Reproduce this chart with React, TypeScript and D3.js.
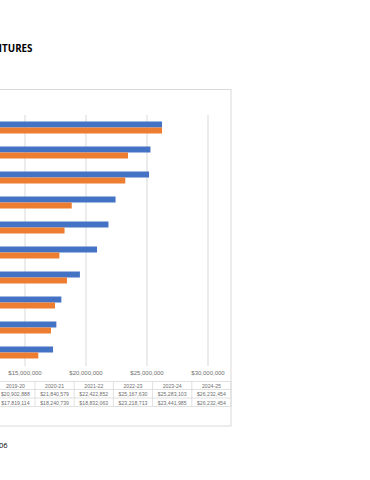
import React from "react";
import * as d3 from "d3";

const categories = ["2015-16", "2016-17", "2017-18", "2018-19", "2019-20", "2020-21", "2021-22", "2022-23", "2023-24", "2024-25"];
const seriesNames = ["Budget", "Actual"];
const budget = [17300000, 17570000, 17980000, 19500000, 20902888, 21840579, 22422852, 25167630, 25283103, 26232454];
const actual = [16090000, 17130000, 17460000, 18440000, 17819114, 18240739, 18832063, 23218713, 23441985, 26232454];
const xTicks = [0, 5000000, 10000000, 15000000, 20000000, 25000000, 30000000];
const colors = ["#4472C4", "#ED7D31"];

export default function App() {
  const W = 370, H = 480;
  const x = d3.scaleLinear().domain([0, 30000000]).range([-158, 208]);
  const y = d3.scaleBand().domain([...categories].reverse()).range([115, 365]);
  const col = d3.scaleBand().domain(categories).range([231 - 392, 231]);
  const fmt = d3.format("$,.0f");
  const series = [budget, actual];
  const rowTops = [381.5, 389.5, 398, 406.5];
  const font = "'Liberation Sans', Arial, sans-serif";
  const gray = "#6f6f6f";
  return (
    <div style={{ position: "absolute", left: 0, top: 0 }}>
      <svg width={W} height={H} style={{ display: "block", background: "#fff" }}>
        <text x={32.5} y={51.5} textAnchor="end" fontFamily="'Open Sans', sans-serif" fontWeight="bold" fontSize={9.8} fill="#000">
          EXPENDITURES
        </text>
        {/* chart border */}
        <rect x={-200} y={89.5} width={431} height={336.5} fill="none" stroke="#d9d9d9" strokeWidth={1} />
        {/* gridlines */}
        {xTicks.map((t) => (
          <line key={t} x1={x(t)} x2={x(t)} y1={115} y2={366} stroke="#d9d9d9" strokeWidth={1} />
        ))}
        {/* bars */}
        {categories.map((c, i) => {
          const cy = (y(c) as number) + y.bandwidth() / 2;
          return series.map((s, k) => (
            <rect
              key={c + k}
              x={x(0)}
              y={cy - 6 + k * 6}
              width={x(s[i]) - x(0)}
              height={6}
              fill={colors[k]}
            />
          ));
        })}
        {/* tick labels */}
        {xTicks.map((t) => (
          <text key={"l" + t} x={x(t)} y={375} textAnchor="middle" fontFamily={font} fontSize={6} fill={gray}>
            {fmt(t)}
          </text>
        ))}
        {/* data table */}
        {rowTops.map((ry, i) => (
          <line key={"r" + i} x1={col.range()[0] - 40} x2={231} y1={ry} y2={ry} stroke="#d9d9d9" strokeWidth={0.8} />
        ))}
        {categories.map((c) => (
          <line key={"v" + c} x1={(col(c) as number) + col.bandwidth()} x2={(col(c) as number) + col.bandwidth()} y1={rowTops[0]} y2={rowTops[3]} stroke="#d9d9d9" strokeWidth={0.8} />
        ))}
        {categories.map((c, i) => {
          const cx = (col(c) as number) + col.bandwidth() / 2;
          return (
            <g key={"t" + c} fontFamily={font} fontSize={5.2} fill={gray} textAnchor="middle">
              <text x={cx} y={387.5}>{c}</text>
              <text x={cx} y={395.8}>{fmt(budget[i])}</text>
              <text x={cx} y={404.5}>{fmt(actual[i])}</text>
            </g>
          );
        })}
        {seriesNames.map((n, k) => (
          <text key={n} x={col.range()[0] - 20} y={395.8 + k * 8.7} textAnchor="middle" fontFamily={font} fontSize={5.2} fill={gray}>
            {n}
          </text>
        ))}
        <text x={7.5} y={447.5} textAnchor="end" fontFamily="'Open Sans', sans-serif" fontSize={7.5} fill="#000">
          06
        </text>
      </svg>
    </div>
  );
}
